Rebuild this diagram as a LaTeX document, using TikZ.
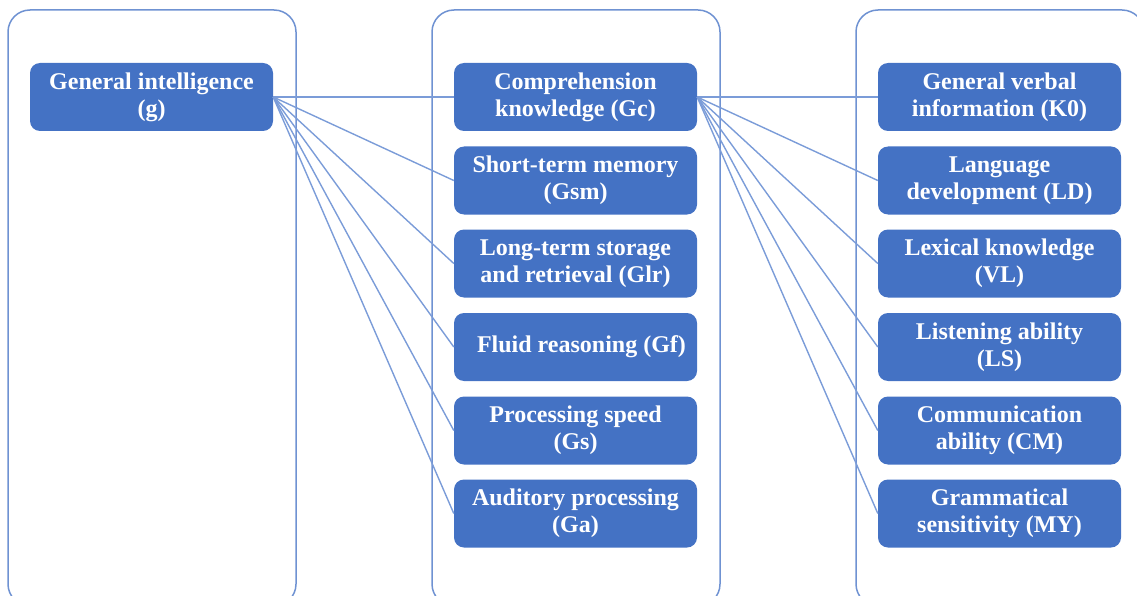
\documentclass[tikz,border=0pt]{standalone}
\usepackage{fontspec}
\setmainfont{Liberation Serif}
\definecolor{boxblue}{HTML}{4472C4}
\definecolor{edgeblue}{HTML}{7B9CD8}
\definecolor{panelblue}{HTML}{6F92D2}
\begin{document}
\begin{tikzpicture}[x=1pt,y=-1pt,
  panel/.style={draw=panelblue,line width=1.5pt,rounded corners=22pt},
  ability/.style={rectangle,rounded corners=10pt,fill=boxblue,text=white,
    minimum width=243pt,minimum height=68pt,inner sep=2pt,align=center,
    font=\fontsize{24}{27}\selectfont\bfseries},
  link/.style={draw=edgeblue,line width=1.4pt}]
\useasboundingbox (0,0) rectangle (1137,596);
\clip (0,0) rectangle (1137,596);
% three column panels
\draw[panel] (8,10) rectangle (296,606);
\draw[panel] (432,10) rectangle (720,606);
\draw[panel] (856,10) rectangle (1144,606);
% general factor
\node[ability] (g) at (151.5,97) {General intelligence\\(g)};
% broad abilities
\node[ability] (gc)  at (575.5,97)   {Comprehension\\knowledge (Gc)};
\node[ability] (gsm) at (575.5,180.5) {Short-term memory\\(Gsm)};
\node[ability] (glr) at (575.5,263.5) {Long-term storage\\and retrieval (Glr)};
\node[ability] (gf)  at (575.5,347)   {\hspace*{12pt}Fluid reasoning (Gf)};
\node[ability] (gs)  at (575.5,430.5) {Processing speed\\(Gs)};
\node[ability] (ga)  at (575.5,513.5) {Auditory processing\\(Ga)};
% narrow abilities of Gc
\node[ability] (k0) at (999.5,97)    {General verbal\\information (K0)};
\node[ability] (ld) at (999.5,180.5) {Language\\development (LD)};
\node[ability] (vl) at (999.5,263.5) {Lexical knowledge\\(VL)};
\node[ability] (ls) at (999.5,347)   {Listening ability\\(LS)};
\node[ability] (cm) at (999.5,430.5) {Communication\\ability (CM)};
\node[ability] (my) at (999.5,513.5) {Grammatical\\sensitivity (MY)};
% connectors: g to broad abilities, Gc to its narrow abilities
\foreach \t in {gc,gsm,glr,gf,gs,ga} \draw[link] (g.east) -- (\t.west);
\foreach \t in {k0,ld,vl,ls,cm,my} \draw[link] (gc.east) -- (\t.west);
\end{tikzpicture}
\end{document}
